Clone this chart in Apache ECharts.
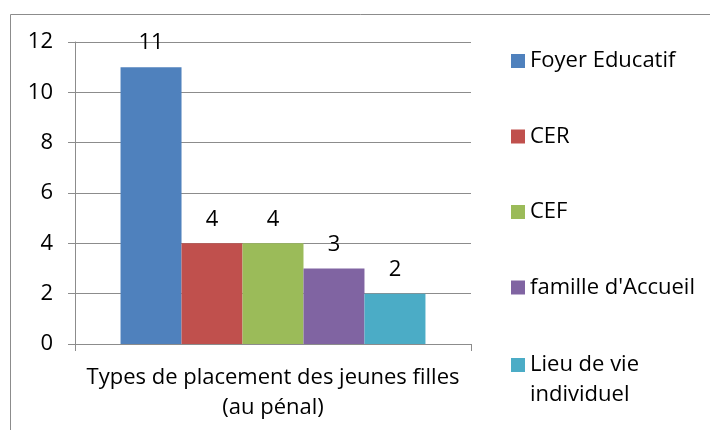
<!DOCTYPE html>
<html>
<head>
<meta charset="utf-8">
<script src="https://cdn.jsdelivr.net/npm/echarts@6/dist/echarts.min.js"></script>
<style>
  html, body { margin: 0; padding: 0; background: #fff; }
  #chart { width: 710px; height: 430px; }
</style>
</head>
<body>
<div id="chart"></div>
<script>
// data
const categories = ['Types de placement des jeunes filles\n(au pénal)'];
const seriesNames = ['Foyer Educatif', 'CER', 'CEF', "famille d'Accueil", 'Lieu de vie individuel'];
const seriesValues = [11, 4, 4, 3, 2];
const colors = ['#4F81BD', '#C0504D', '#9BBB59', '#8064A2', '#4BACC6'];

const font = 'Open Sans, Noto Sans, sans-serif';
const fontSize = 22;
const gray = '#8c8c8c';

let chart = echarts.init(document.getElementById('chart'));

// wrap long legend names on two lines
function wrapName(name) {
  if (name.length <= 18) return name;
  let cut = name.lastIndexOf(' ', 12);
  return name.slice(0, cut) + '\n' + name.slice(cut + 1);
}

let series = seriesNames.map((n, i) => ({
  name: n,
  type: 'bar',
  data: [seriesValues[i]],
  barGap: '0%',
  barCategoryGap: '23%',
  itemStyle: { color: colors[i] },
  label: {
    show: true,
    position: 'top',
    distance: 13,
    color: '#000',
    fontFamily: font,
    fontSize: fontSize,
    lineHeight: 22
  }
}));

let legendBase = {
  orient: 'vertical',
  left: 511,
  padding: 0,
  itemWidth: 14,
  itemHeight: 14,
  itemGap: 45.5,
  icon: 'rect',
  formatter: wrapName,
  textStyle: { fontFamily: font, fontSize: fontSize, color: '#000', lineHeight: 30 }
};

let option = {
  animation: false,
  backgroundColor: '#fff',
  graphic: [{
    type: 'rect',
    shape: { x: 10.5, y: 14.5, width: 720, height: 440 },
    style: { fill: 'none', stroke: gray, lineWidth: 1 }
  }],
  grid: { left: 75, right: 239, top: 42, bottom: 86 },
  legend: [
    Object.assign({}, legendBase, { top: 46, data: seriesNames.slice(0, 4) }),
    // last name runs on two lines; an empty line above keeps the icon level with the first line
    Object.assign({}, legendBase, {
      top: 320,
      data: seriesNames.slice(4),
      formatter: n => '\n' + wrapName(n)
    })
  ],
  xAxis: {
    type: 'category',
    data: categories,
    axisLine: { lineStyle: { color: gray } },
    axisTick: { show: true, length: 7, lineStyle: { color: gray } },
    axisLabel: {
      margin: 19,
      color: '#000',
      fontFamily: font,
      fontSize: fontSize,
      lineHeight: 30
    }
  },
  yAxis: {
    type: 'value',
    min: 0,
    max: 12,
    interval: 2,
    axisLine: { show: true, lineStyle: { color: gray } },
    axisTick: { show: true, length: 7, lineStyle: { color: gray } },
    splitLine: { lineStyle: { color: gray } },
    axisLabel: {
      margin: 22,
      color: '#000',
      fontFamily: font,
      fontSize: fontSize
    }
  },
  series: series
};

chart.setOption(option);
</script>
</body>
</html>
